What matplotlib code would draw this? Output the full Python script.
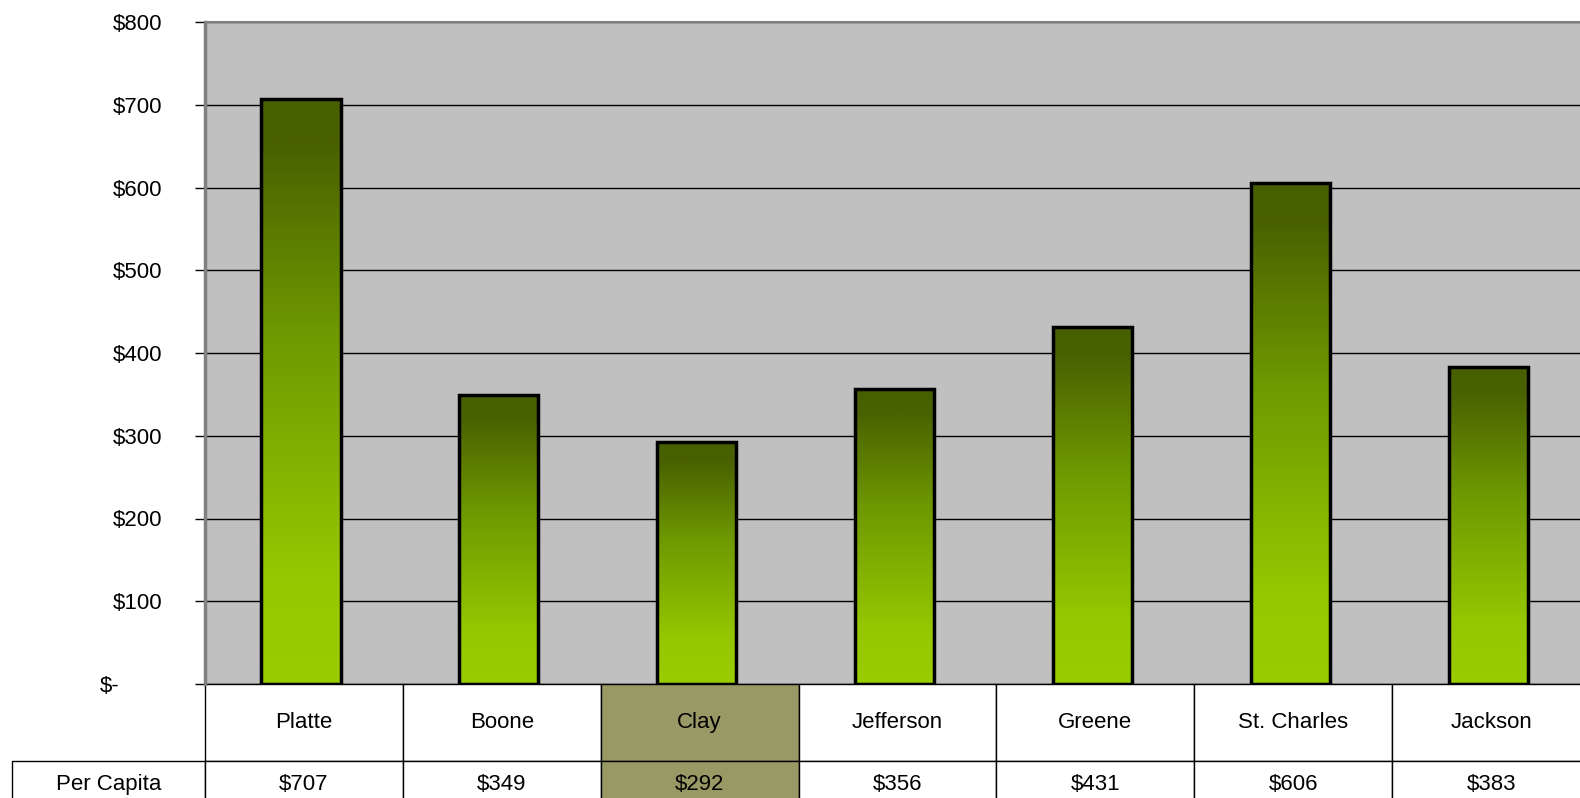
import matplotlib
matplotlib.use("Agg")
import matplotlib.pyplot as plt
from matplotlib.colors import LinearSegmentedColormap
from matplotlib.transforms import ScaledTranslation
import numpy as np

# Data
counties = ["Platte", "Boone", "Clay", "Jefferson", "Greene", "St. Charles", "Jackson"]
per_capita = [707, 349, 292, 356, 431, 606, 383]
row_label = "Per Capita"
highlight = "Clay"

plt.rcParams['font.family'] = ['Liberation Sans', 'DejaVu Sans']

W, H = 1580, 798
fig = plt.figure(figsize=(W / 100, H / 100), dpi=100)

# plot area in pixels (runs a bit past the right edge, as in the original)
left, right, top, bottom = 205, 1590, 22, 684
ax = fig.add_axes([left / W, (H - bottom) / H, (right - left) / W, (bottom - top) / H])
ax.set_facecolor("#c0c0c0")

x = np.arange(len(counties))
bar_w = 0.40
bars = ax.bar(x - 0.015, per_capita, width=bar_w, color="none", edgecolor="black",
              linewidth=2.5, zorder=3)

# vertical gradient for each bar, dark at top, lime at bottom
cmap = LinearSegmentedColormap.from_list(
    "grn", [(0, "#99cc00"), (0.18, "#96c800"), (0.6, "#6f9800"), (0.93, "#486000"), (1, "#466000")])
grad = np.linspace(0, 1, 256).reshape(-1, 1)
for b in bars:
    x0, w, h = b.get_x(), b.get_width(), b.get_height()
    im = ax.imshow(grad, cmap=cmap, origin="lower", aspect="auto",
                   extent=[x0, x0 + w, 0, h], zorder=2)
    im.set_clip_path(b)

ax.set_xlim(-0.5, len(counties) - 0.5)
ax.set_ylim(0, 800)
yt = np.arange(0, 801, 100)
ax.set_yticks(yt)
ax.set_yticklabels(["$-"] + [f"${v}" for v in yt[1:]], fontsize=16)
ax.tick_params(axis="y", length=7, width=1, pad=24)
# accounting style: the "$-" sits further left than the other labels
zero_lbl = ax.get_yticklabels()[0]
zero_lbl.set_transform(zero_lbl.get_transform() + ScaledTranslation(-0.42, 0, fig.dpi_scale_trans))
ax.set_xticks([])
ax.grid(axis="y", color="black", linewidth=1, zorder=1)
ax.set_axisbelow(True)
for s in ["right", "bottom"]:
    ax.spines[s].set_visible(False)
ax.spines["left"].set_color("#808080")
ax.spines["left"].set_linewidth(2.5)
ax.spines["top"].set_color("#808080")
ax.spines["top"].set_linewidth(1.5)

# data table
ax_h = bottom - top
ax_w = right - left
hdr_h, val_h = 77, 47
tbl = ax.table(cellText=[[f"${v}" for v in per_capita]], colLabels=counties,
               cellLoc="center",
               bbox=[0, -(hdr_h + val_h) / ax_h, 1, (hdr_h + val_h) / ax_h])
tbl.add_cell(1, -1, width=(left - 12) / ax_w, height=val_h / ax_h,
             text=row_label, loc="center")
tbl.auto_set_font_size(False)
tbl.set_fontsize(16)
for (r, c), cell in tbl.get_celld().items():
    cell.set_linewidth(1)
    cell.set_edgecolor("black")
    cell.set_height((hdr_h if r == 0 else val_h) / ax_h)
    if c >= 0 and counties[c] == highlight:
        cell.set_facecolor("#999966")

fig.savefig("out.png", dpi=100)
